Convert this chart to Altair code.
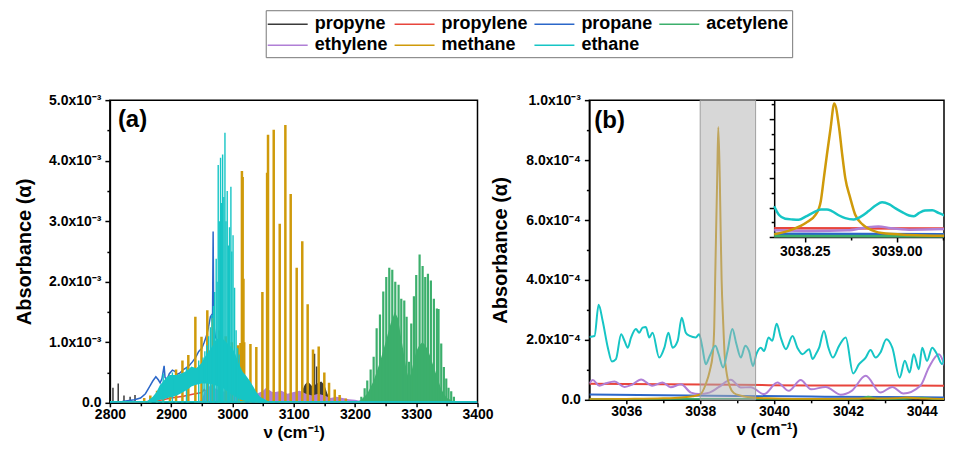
import altair as alt
import pandas as pd

FONT = "Liberation Sans"
SERIES = ["propyne", "propylene", "propane", "acetylene", "ethylene", "methane", "ethane"]
COLORS = ["#3a3a3a", "#e8453c", "#2b67c9", "#3caf6c", "#b07fd6", "#cf9a0a", "#16c5c5"]
COL = dict(zip(SERIES, COLORS))

# ---------------- panel (a): absorbance in units of 1e-3 ----------------
CH4_NU = [2856, 2866, 2877, 2887, 2898, 2908, 2918.4, 2928, 2939.5, 2949.5,
          2959, 2968, 2978.5, 2989, 2999, 3009, 3013, 3015.5, 3016.7, 3018,
          3019.2, 3029.4, 3039, 3048.9, 3056.6, 3058.1, 3067.4, 3077.2, 3086.4, 3095.1,
          3104.9, 3114.0, 3122.8, 3131.5, 3140.8, 3150.0, 3157.7, 3167.0, 3175.0, 3185.0]
CH4_H = [0.08, 0.12, 0.20, 0.30, 0.45, 0.55, 0.70, 0.79, 1.42, 1.09,
         1.53, 1.40, 1.20, 1.10, 1.00, 0.95, 0.99, 3.83, 3.73, 2.05,
         1.00, 0.97, 0.92, 1.83, 3.80, 4.43, 4.51, 2.96, 4.59, 3.45,
         2.23, 2.67, 1.63, 0.88, 0.93, 0.50, 0.33, 0.22, 0.13, 0.07]

C2H6_NU = [2887, 2902, 2925, 2945, 2952, 2955, 2958, 2961, 2964, 2966.5,
           2969, 2971, 2973.5, 2975, 2976.8, 2978.5, 2980.6, 2982.3, 2984, 2986,
           2987.8, 2989.5, 2991.5, 2993.5, 2995.2, 2997.5, 2999, 3001, 3003.5, 3006,
           3008.5, 3011]
C2H6_H = [0.48, 0.50, 0.58, 0.70, 0.75, 0.85, 0.95, 1.10, 1.25, 1.45,
          1.60, 1.83, 2.38, 2.00, 3.93, 3.00, 4.05, 3.30, 4.10, 3.40,
          4.46, 3.00, 3.50, 2.60, 2.90, 3.57, 2.50, 2.77, 1.90, 1.20,
          0.90, 0.80]
C2H6_ENV_NU = [2860, 2870, 2876, 2882, 2887, 2892, 2898, 2903, 2909, 2915, 2922, 2928, 2933, 2941,
               2949, 2957, 2965, 2974, 2985, 2990, 3000, 3005, 3009, 3017, 3022, 3028, 3034, 3039,
               3045, 3050, 3056, 3061, 3070]
C2H6_ENV_HI = [0.02, 0.10, 0.18, 0.30, 0.35, 0.42, 0.46, 0.46, 0.46, 0.48, 0.51, 0.55, 0.60, 0.57,
               0.65, 0.79, 0.90, 1.06, 1.05, 1.00, 0.90, 0.80, 0.68, 0.51, 0.45, 0.37, 0.27, 0.18,
               0.10, 0.07, 0.04, 0.02, 0.0]
C2H6_ENV_LO = [0.0, 0.02, 0.03, 0.05, 0.06, 0.07, 0.09, 0.10, 0.12, 0.15, 0.19, 0.23, 0.27, 0.30,
               0.32, 0.32, 0.31, 0.28, 0.24, 0.20, 0.13, 0.10, 0.07, 0.04, 0.03, 0.02, 0.01, 0.01,
               0.0, 0.0, 0.0, 0.0, 0.0]
C2H6_BASE_NU = [2800, 3400]
C2H6_BASE_H = [0.012, 0.012]

C2H2_NU = [3210.4, 3215.8, 3220.1, 3225.6, 3230.5, 3235.4, 3240.8, 3246.2, 3251.1, 3256.0,
           3260.9, 3265.8, 3271.2, 3275.6, 3280.5, 3284.3, 3288.1, 3291.9, 3296.2, 3300.0,
           3305.5, 3310.4, 3314.7, 3319.1, 3323.9, 3328.8, 3333.7, 3336.4, 3340.8, 3345.1,
           3349.0, 3352.7, 3357.1, 3361.5]
C2H2_H = [0.10, 0.24, 0.37, 0.55, 0.76, 1.23, 1.46, 1.84, 2.08, 2.23,
          2.20, 2.00, 1.95, 1.72, 1.69, 1.42, 0.68, 1.31, 1.76, 2.11,
          2.45, 2.26, 2.08, 2.13, 2.02, 1.72, 1.56, 1.55, 0.98, 0.59,
          0.40, 0.25, 0.19, 0.10]
C2H2_ENV_NU = [3200, 3210, 3220, 3230, 3240, 3250, 3258, 3265, 3270, 3275,
               3280, 3285, 3288, 3292, 3296, 3300, 3305, 3310, 3315, 3320,
               3325, 3330, 3335, 3340, 3345, 3350, 3360, 3370]
C2H2_ENV_H = [0.0, 0.05, 0.15, 0.35, 0.65, 1.00, 1.30, 1.50, 1.40, 1.10,
              0.80, 0.50, 0.40, 0.50, 0.70, 0.85, 0.95, 1.00, 0.95, 0.85,
              0.70, 0.55, 0.40, 0.25, 0.15, 0.08, 0.03, 0.0]

C2H4_NU = [2940, 2950, 2955, 2960, 2965, 2970, 2980, 2990, 3000, 3010,
           3020, 3030, 3040, 3050, 3055, 3057, 3059, 3065, 3070, 3080,
           3090, 3100, 3110, 3120, 3130, 3140, 3150, 3160, 3170, 3180,
           3190, 3200, 3210, 3230, 3250]
C2H4_H = [0.0, 0.05, 0.20, 0.25, 0.30, 0.25, 0.20, 0.18, 0.20, 0.22,
          0.20, 0.18, 0.15, 0.20, 0.25, 0.45, 0.22, 0.18, 0.18, 0.20,
          0.15, 0.18, 0.20, 0.15, 0.12, 0.15, 0.12, 0.08, 0.10, 0.08,
          0.06, 0.05, 0.03, 0.01, 0.0]

C3H4_ENV_NU = [3100, 3108, 3112, 3118, 3123, 3128, 3132, 3135, 3140, 3145, 3150, 3155, 3160, 3166]
C3H4_ENV_H = [0.0, 0.05, 0.15, 0.30, 0.35, 0.30, 0.25, 0.30, 0.33, 0.35, 0.30, 0.15, 0.05, 0.0]
C3H4_NU = [2805, 2813.6, 2823, 2833, 2841, 3134, 3137.5]
C3H4_H = [0.25, 0.32, 0.12, 0.10, 0.13, 0.81, 0.60]

C3H8_NU = [2800, 2820, 2840, 2850, 2858, 2865, 2870, 2875, 2879, 2882,
           2885, 2888.5, 2890, 2893, 2897, 2902, 2906, 2910, 2915, 2920,
           2925, 2930, 2935, 2940, 2945, 2950, 2954, 2958, 2961, 2964,
           2966, 2967.5, 2968.5, 2969.5, 2972, 2978, 2985, 2995, 3005, 3015,
           3030, 3050, 3100, 3400]
C3H8_H = [0.01, 0.02, 0.05, 0.08, 0.15, 0.27, 0.36, 0.43, 0.38, 0.33,
          0.40, 0.61, 0.42, 0.38, 0.48, 0.54, 0.52, 0.47, 0.50, 0.55,
          0.58, 0.62, 0.68, 0.75, 0.85, 0.90, 1.00, 1.12, 1.25, 1.42,
          1.45, 1.35, 2.83, 1.30, 1.10, 0.95, 0.80, 0.60, 0.35, 0.20,
          0.08, 0.03, 0.01, 0.0]

C3H6_NU = [2800, 2850, 2880, 2900, 2920, 2935, 2950, 2954, 2958, 2970, 2990, 3000, 3010, 3030, 3060, 3100, 3400]
C3H6_H = [0.0, 0.01, 0.04, 0.08, 0.11, 0.14, 0.17, 0.22, 0.17, 0.18, 0.16, 0.16, 0.12, 0.06, 0.03, 0.01, 0.0]

# ---------------- panel (b): absorbance in units of 1e-4 ----------------
B_C2H6_NU = [3035.00, 3035.14, 3035.25, 3035.36, 3035.50, 3035.61, 3035.72, 3035.86, 3035.95, 3036.04,
             3036.13, 3036.26, 3036.35, 3036.44, 3036.53, 3036.62, 3036.71, 3036.89, 3037.03, 3037.14,
             3037.25, 3037.39, 3037.50, 3037.61, 3037.72, 3037.88, 3037.97, 3038.06, 3038.15, 3038.26,
             3038.41, 3038.50, 3038.62, 3038.74, 3038.87, 3038.98, 3039.10, 3039.22, 3039.32, 3039.43,
             3039.52, 3039.64, 3039.73, 3039.85, 3039.95, 3040.07,
             3040.18, 3040.32, 3040.50, 3040.63, 3040.77, 3040.95, 3041.04, 3041.13, 3041.22, 3041.35,
             3041.47, 3041.59, 3041.76, 3041.94, 3042.14, 3042.30, 3042.48, 3042.61, 3042.75, 3042.88,
             3043.04, 3043.20, 3043.40, 3043.54, 3043.67, 3043.78, 3043.92, 3044.01, 3044.14, 3044.28,
             3044.41, 3044.55, 3044.68, 3044.81]
B_C2H6_H = [2.10, 2.13, 3.17, 2.63, 1.74, 1.28, 1.36, 2.19, 1.97, 1.74,
            2.08, 2.36, 2.24, 2.41, 2.43, 2.08, 2.24, 1.41, 1.74, 2.24,
            1.74, 1.97, 2.74, 2.24, 2.13, 2.08, 2.19, 1.74, 1.19, 1.47,
            1.80, 1.52, 1.08, 1.63, 2.36, 1.86, 1.41, 1.80, 1.63, 1.13,
            1.52, 1.74, 1.63, 2.08, 1.97, 2.54,
            2.08, 1.69, 2.13, 1.74, 1.52, 1.69, 1.36, 1.52, 1.74, 2.30,
            1.74, 1.41, 1.80, 2.08, 0.88, 1.19, 1.41, 1.66, 1.41, 1.58,
            2.02, 1.74, 0.74, 1.30, 0.91, 1.52, 1.02, 1.74, 1.30, 1.74,
            1.52, 1.19, 1.86, 2.08]
B_C2H4_NU = [3035.0, 3035.09, 3035.27, 3035.45, 3035.68, 3035.95, 3036.15, 3036.40, 3036.70, 3036.98,
             3037.20, 3037.48, 3037.75, 3037.97, 3038.25, 3038.50, 3038.83, 3039.10, 3039.37, 3039.73,
             3040.09, 3040.40, 3040.72, 3041.00, 3041.40, 3041.80, 3042.10, 3042.48, 3042.88, 3043.20,
             3043.50, 3043.96, 3044.19, 3044.46, 3044.64, 3044.80]
B_C2H4_H = [0.55, 0.66, 0.47, 0.55, 0.61, 0.43, 0.50, 0.68, 0.47, 0.58,
            0.42, 0.52, 0.24, 0.19, 0.24, 0.42, 0.67, 0.41, 0.42, 0.19,
            0.58, 0.30, 0.66, 0.35, 0.43, 0.17, 0.30, 0.80, 0.24, 0.43,
            0.21, 0.47, 1.08, 1.52, 1.08, 0.43]
B_CH4_NU = [3035, 3036, 3037, 3037.5, 3037.8, 3038.0, 3038.15, 3038.26, 3038.34, 3038.38,
            3038.405, 3038.43, 3038.46, 3038.49, 3038.53, 3038.555, 3038.58, 3038.62, 3038.66, 3038.72,
            3038.8, 3038.91, 3039.1, 3039.45, 3039.8, 3040.5, 3041.5, 3042.5, 3043.3, 3043.6,
            3043.9, 3044.5, 3044.8]
B_CH4_H = [0.02, 0.03, 0.05, 0.08, 0.12, 0.18, 0.52, 0.97, 1.53, 2.43,
           4.0, 5.59, 7.39, 9.1, 7.39, 5.59, 4.0, 2.66, 1.53, 0.86,
           0.45, 0.23, 0.14, 0.07, 0.05, 0.03, 0.03, 0.04, 0.05, 0.08,
           0.05, 0.03, 0.02]
B_C3H6_NU = [3035, 3037, 3039, 3041, 3043, 3044.8]
B_C3H6_H = [0.54, 0.52, 0.50, 0.48, 0.48, 0.47]
B_C3H8_NU = [3035, 3037, 3039, 3041, 3043, 3044.8]
B_C3H8_H = [0.18, 0.15, 0.13, 0.11, 0.09, 0.08]
B_C2H2_NU = [3035, 3038, 3040, 3042.3, 3042.55, 3042.8, 3043.5, 3044.0, 3044.3, 3044.8]
B_C2H2_H = [0.02, 0.03, 0.02, 0.03, 0.10, 0.03, 0.03, 0.07, 0.03, 0.02]
B_C3H4_NU = [3035, 3044.8]
B_C3H4_H = [0.01, 0.01]
BAND = [3038.0, 3039.5]

# ---------------- inset of (b) (units of 1e-4) ----------------
IN_C2H6_NU = [3038.00, 3038.04, 3038.09, 3038.15, 3038.20, 3038.26, 3038.31, 3038.38, 3038.43, 3038.47,
              3038.53, 3038.58, 3038.65, 3038.70, 3038.77, 3038.83, 3038.88, 3038.94, 3038.99, 3039.04,
              3039.10, 3039.14, 3039.18, 3039.23, 3039.29, 3039.34, 3039.40, 3039.45]
IN_C2H6_H = [2.09, 1.49, 1.24, 1.19, 1.17, 1.40, 1.62, 1.87, 1.87, 1.76,
             1.46, 1.28, 1.19, 1.35, 1.76, 2.16, 2.36, 2.21, 1.94, 1.71,
             1.46, 1.41, 1.62, 1.80, 1.82, 1.64, 1.41, 1.19]
IN_CH4_NU = [3038.00, 3038.15, 3038.26, 3038.34, 3038.38, 3038.405, 3038.43, 3038.46, 3038.49, 3038.53,
             3038.555, 3038.58, 3038.62, 3038.66, 3038.72, 3038.80, 3038.91, 3039.10, 3039.45]
IN_CH4_H = [0.18, 0.52, 0.97, 1.53, 2.43, 4.0, 5.59, 7.39, 9.07, 7.39,
            5.59, 4.0, 2.66, 1.53, 0.86, 0.45, 0.23, 0.14, 0.07]
IN_C2H4_NU = [3038.0, 3038.3, 3038.6, 3038.75, 3038.85, 3038.95, 3039.1, 3039.45]
IN_C2H4_H = [0.45, 0.40, 0.45, 0.65, 0.72, 0.60, 0.50, 0.55]
IN_C3H6_NU = [3038.0, 3039.45]
IN_C3H6_H = [0.60, 0.58]
IN_C3H8_NU = [3038.0, 3039.45]
IN_C3H8_H = [0.22, 0.18]
IN_C2H2_NU = [3038.0, 3039.45]
IN_C2H2_H = [0.06, 0.05]
IN_C3H4_NU = [3038.0, 3039.45]
IN_C3H4_H = [0.02, 0.02]

A_XTICKS = [2800, 2900, 3000, 3100, 3200, 3300, 3400]
A_XMINOR = [2850, 2950, 3050, 3150, 3250, 3350]
A_YTICKS = [0, 1, 2, 3, 4, 5]
A_YMINOR = [0.5, 1.5, 2.5, 3.5, 4.5]
B_XTICKS = [3036, 3038, 3040, 3042, 3044]
B_XMINOR = [3037, 3039, 3041, 3043]
B_YTICKS = [0, 2, 4, 6, 8, 10]
B_YMINOR = [1, 3, 5, 7, 9]
IN_XTICKS = [3038.25, 3039.0]
IN_XMINOR = [3038.625, 3039.375]
IN_YTICKS = [0, 2, 4, 6, 8]
IN_YMINOR = [1, 3, 5, 7, 9]

W_A, H_A = 368, 303
W_B, H_B = 355, 300
IN_X0, IN_H = 185, 137


def df(nu, h, name):
    return pd.DataFrame({"nu": nu, "h": h, "series": name, "c": COL[name]})


def minor_axis(values, orient, offset=0):
    return alt.Axis(values=values, labels=False, tickSize=3, domain=False, title=None,
                    orient=orient, grid=False, offset=offset)


# ---------------- panel (a) ----------------
XA = alt.Scale(domain=[2800, 3400], nice=False, zero=False)
YA = alt.Scale(domain=[0, 5], nice=False)
ya_expr = "datum.value == 0 ? '0.0' : format(datum.value, '.1f') + 'x10⁻³'"
ax_xa = alt.Axis(values=A_XTICKS, format="d", title="ν (cm⁻¹)", tickSize=4, labelPadding=1,
                 titlePadding=3, titleFontSize=17, orient="bottom")
ax_ya = alt.Axis(values=A_YTICKS, labelExpr=ya_expr, title="Absorbance (α)", tickSize=5,
                 labelPadding=4, titlePadding=14, orient="left")


def xa(axis=None):
    return alt.X("nu:Q", scale=XA, axis=axis)


def ya(field="h:Q", axis=None):
    return alt.Y(field, scale=YA, axis=axis)


black_area = alt.Chart(df(C3H4_ENV_NU, C3H4_ENV_H, "propyne")).mark_area(
    color=COL["propyne"], clip=True).encode(x=xa(ax_xa), y=ya(axis=ax_ya))
black_sticks = alt.Chart(df(C3H4_NU, C3H4_H, "propyne")).mark_rule(
    color=COL["propyne"], strokeWidth=1.5, clip=True).encode(x=xa(), y=ya(), y2=alt.datum(0))
red_line = alt.Chart(df(C3H6_NU, C3H6_H, "propylene")).mark_line(
    color=COL["propylene"], strokeWidth=1.5, clip=True).encode(
    x=xa(minor_axis(A_XMINOR, "bottom")), y=ya(axis=minor_axis(A_YMINOR, "left")))
blue_line = alt.Chart(df(C3H8_NU, C3H8_H, "propane")).mark_line(
    color=COL["propane"], strokeWidth=1.5, clip=True).encode(x=xa(), y=ya())
green_area = alt.Chart(df(C2H2_ENV_NU, C2H2_ENV_H, "acetylene")).mark_area(
    color=COL["acetylene"], clip=True).encode(x=xa(), y=ya())
green_sticks = alt.Chart(df(C2H2_NU, C2H2_H, "acetylene")).mark_rule(
    color=COL["acetylene"], strokeWidth=2.2, clip=True).encode(x=xa(), y=ya(), y2=alt.datum(0))
purple_area = alt.Chart(df(C2H4_NU, C2H4_H, "ethylene")).mark_area(
    color=COL["ethylene"], clip=True).encode(x=xa(), y=ya())
gold_sticks = alt.Chart(df(CH4_NU, CH4_H, "methane")).mark_rule(
    color=COL["methane"], strokeWidth=2.5, clip=True).encode(x=xa(), y=ya(), y2=alt.datum(0))
cyan_base = alt.Chart(df(C2H6_BASE_NU, C2H6_BASE_H, "ethane")).mark_line(
    color=COL["ethane"], strokeWidth=2, clip=True).encode(x=xa(), y=ya())
cyan_band = alt.Chart(pd.DataFrame({"nu": C2H6_ENV_NU, "hi": C2H6_ENV_HI, "lo": C2H6_ENV_LO})).mark_area(
    color=COL["ethane"], clip=True).encode(x=xa(), y=ya("hi:Q"), y2="lo:Q")
cyan_sticks = alt.Chart(df(C2H6_NU, C2H6_H, "ethane")).mark_rule(
    color=COL["ethane"], strokeWidth=1.4, clip=True).encode(x=xa(), y=ya(), y2=alt.datum(0))
text_a = alt.Chart(pd.DataFrame({"t": ["(a)"]})).mark_text(
    font=FONT, fontSize=24, fontWeight="bold", align="left", baseline="middle", color="black"
).encode(x=alt.value(8), y=alt.value(20), text="t:N")

panel_a = alt.layer(black_area, black_sticks, red_line, blue_line, green_area, green_sticks,
                    purple_area, gold_sticks, cyan_base, cyan_band, cyan_sticks, text_a
                    ).resolve_axis(x="independent", y="independent").properties(width=W_A, height=H_A)

# ---------------- panel (b) ----------------
B_DF = pd.concat([
    df(B_C3H4_NU, B_C3H4_H, "propyne"),
    df(B_C3H6_NU, B_C3H6_H, "propylene"),
    df(B_C3H8_NU, B_C3H8_H, "propane"),
    df(B_C2H2_NU, B_C2H2_H, "acetylene"),
    df(B_C2H4_NU, B_C2H4_H, "ethylene"),
    df(B_CH4_NU, B_CH4_H, "methane"),
    df(B_C2H6_NU, B_C2H6_H, "ethane"),
], ignore_index=True)
IN_DF = pd.concat([
    df(IN_C3H4_NU, IN_C3H4_H, "propyne"),
    df(IN_C3H6_NU, IN_C3H6_H, "propylene"),
    df(IN_C3H8_NU, IN_C3H8_H, "propane"),
    df(IN_C2H2_NU, IN_C2H2_H, "acetylene"),
    df(IN_C2H4_NU, IN_C2H4_H, "ethylene"),
    df(IN_CH4_NU, IN_CH4_H, "methane"),
    df(IN_C2H6_NU, IN_C2H6_H, "ethane"),
], ignore_index=True)

XB = alt.Scale(domain=[3035, 3044.6], nice=False, zero=False)
YB = alt.Scale(domain=[0, 10], nice=False)
yb_expr = ("datum.value == 0 ? '0.0' : (datum.value >= 10 ? format(datum.value / 10, '.1f') + 'x10⁻³'"
           " : format(datum.value, '.1f') + 'x10⁻⁴')")
ax_xb = alt.Axis(values=B_XTICKS, format="d", title="ν (cm⁻¹)", tickSize=4, labelPadding=1,
                 titlePadding=3, titleFontSize=17, orient="bottom")
ax_yb = alt.Axis(values=B_YTICKS, labelExpr=yb_expr, title="Absorbance (α)", tickSize=5,
                 labelPadding=4, titlePadding=15, orient="left")

legend = alt.Legend(orient="none", legendX=-324, legendY=-90, direction="horizontal", columns=4,
                    title=None, symbolType="M-2,0H2", symbolSize=400, symbolStrokeWidth=1.5,
                    labelFont=FONT, labelFontSize=18, labelFontWeight="bold", labelColor="black",
                    labelOffset=16, symbolOffset=8, strokeColor="#777777", fillColor="white",
                    padding=3, columnPadding=3, rowPadding=1, labelLimit=300)

lines_b = alt.Chart(B_DF).mark_line(strokeWidth=2, clip=True, interpolate="monotone").encode(
    x=alt.X("nu:Q", scale=XB, axis=ax_xb),
    y=alt.Y("h:Q", scale=YB, axis=ax_yb),
    color=alt.Color("series:N", scale=alt.Scale(domain=SERIES, range=COLORS), legend=legend),
)
band_b = alt.Chart(pd.DataFrame({"x0": [BAND[0]], "x1": [BAND[1]], "y0": [0], "y1": [10]})).mark_rect(
    fill="#b0b0b0", fillOpacity=0.5, stroke="#a0a0a0", strokeWidth=1).encode(
    x=alt.X("x0:Q", scale=XB, axis=minor_axis(B_XMINOR, "bottom")), x2="x1:Q",
    y=alt.Y("y0:Q", scale=YB, axis=minor_axis(B_YMINOR, "left")), y2="y1:Q")
text_b = alt.Chart(pd.DataFrame({"t": ["(b)"]})).mark_text(
    font=FONT, fontSize=24, fontWeight="bold", align="left", baseline="middle", color="black"
).encode(x=alt.value(5), y=alt.value(21), text="t:N")

# inset: own scales mapped onto the upper-right corner of panel (b)
XI = alt.Scale(domain=[3038.0, 3039.385], range=[IN_X0, W_B], nice=False, zero=False)
YI = alt.Scale(domain=[0, 9.3], range=[IN_H, 0], nice=False, zero=False)
inset_lines = alt.Chart(IN_DF).mark_line(strokeWidth=2.5, clip=True, interpolate="monotone").encode(
    x=alt.X("nu:Q", scale=XI, axis=alt.Axis(values=IN_XTICKS, format=".2f", tickSize=5,
                                            labelPadding=3, title=None, orient="bottom",
                                            offset=IN_H - H_B)),
    y=alt.Y("h:Q", scale=YI, axis=alt.Axis(values=IN_YTICKS, labels=False, tickSize=5,
                                           title=None, orient="left", offset=-IN_X0)),
    color=alt.Color("c:N", scale=None),
    detail="series:N",
)
inset_minor = alt.Chart(IN_DF).mark_line(strokeOpacity=0, clip=True).encode(
    x=alt.X("nu:Q", scale=XI, axis=minor_axis(IN_XMINOR, "bottom", IN_H - H_B)),
    y=alt.Y("h:Q", scale=YI, axis=minor_axis(IN_YMINOR, "left", -IN_X0)),
    detail="series:N",
)

panel_b = alt.layer(lines_b, band_b, text_b, inset_lines, inset_minor).resolve_scale(
    x="independent", y="independent").resolve_axis(
    x="independent", y="independent").properties(width=W_B, height=H_B)

chart = alt.hconcat(panel_a, panel_b, spacing=112, bounds="flush").resolve_scale(
    color="independent"
).properties(
    padding={"left": 5, "top": 0, "right": 0, "bottom": 0}
).configure_axis(
    labelFont=FONT, labelFontSize=14, labelFontWeight="bold", labelColor="black",
    titleFont=FONT, titleFontSize=20, titleFontWeight="bold", titleColor="black",
    domainColor="black", domainWidth=1.5, tickColor="black", tickWidth=1.5,
    grid=False, labelFlush=False, labelOverlap=False,
).configure_view(stroke="black", strokeWidth=1.5)

chart.save("out.html", embed_options={"renderer": "svg", "actions": False})
